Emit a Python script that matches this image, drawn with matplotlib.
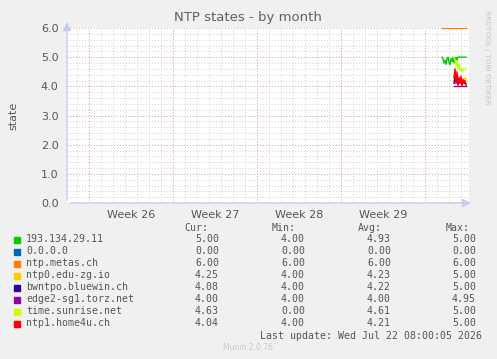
"""Munin style 'NTP states - by month' graph."""

import matplotlib

matplotlib.use("Agg")
import matplotlib.pyplot as plt
import numpy as np
import pandas as pd
from matplotlib.patches import Rectangle

# series names and munin colours, in draw order
names = ["193.134.29.11", "0.0.0.0", "ntp.metas.ch", "ntp0.edu-zg.io",
         "bwntpo.bluewin.ch", "edge2-sg1.torz.net", "time.sunrise.net", "ntp1.home4u.ch"]
colors = ["#00CC00", "#0066B3", "#FF8000", "#FFCC00",
          "#330099", "#990099", "#CCFF00", "#FF0000"]

# samples every 2 hours, only the last two days hold data
t_full = pd.date_range("2026-07-21 10:00", periods=25, freq="2h")
t_late = t_full[12:]

green = [5.0, 4.95, 4.8, 4.9, 4.75, 4.95, 5.0, 4.8, 4.75, 4.95, 4.85, 5.0, 4.8,
         4.95, 5.0, 4.9, 5.0, 5.0, 5.0, 5.0, 5.0, 5.0, 5.0, 5.0, 5.0]
zero_host = [0.0] * 25
metas = [6.0] * 25
edu_zg = [4.2, 4.4, 4.3, 4.1, 4.35, 4.2, 4.15, 4.3, 4.1, 4.2, 4.15, 4.3, 4.25]
bluewin = [4.1, 4.3, 4.15, 4.2, 4.05, 4.25, 4.1, 4.15, 4.05, 4.2, 4.1, 4.1, 4.08]
torz = [4.0, 4.0, 4.0, 4.0, 4.0, 4.0, 4.0, 4.0, 4.0, 4.0, 4.0, 4.0, 4.0]
sunrise = [5.0, 4.9, 4.7, 4.85, 4.6, 4.75, 4.55, 4.6, 4.5, 4.6, 4.55, 4.6, 4.63]
home4u = [4.3, 4.6, 4.1, 4.5, 4.05, 4.3, 4.1, 4.35, 4.0, 4.25, 4.1, 4.2, 4.04]

series = [(t_full, green), (t_full, zero_host), (t_full, metas), (t_late, edu_zg),
          (t_late, bluewin), (t_late, torz), (t_late, sunrise), (t_late, home4u)]

cur = ["5.00", "0.00", "6.00", "4.25", "4.08", "4.00", "4.63", "4.04"]
vmin = ["4.00", "0.00", "6.00", "4.00", "4.00", "4.00", "0.00", "4.00"]
vavg = ["4.93", "0.00", "6.00", "4.23", "4.22", "4.00", "4.61", "4.21"]
vmax = ["5.00", "0.00", "6.00", "5.00", "5.00", "4.95", "5.00", "5.00"]

week_labels = ["Week 26", "Week 27", "Week 28", "Week 29"]
week_starts = pd.date_range("2026-06-22", periods=5, freq="7D")
x_start = pd.Timestamp("2026-06-20 04:00")
x_end = pd.Timestamp("2026-07-23 16:00")

W, H = 497, 359
BG = "#F0F0F0"
TXT = "#555555"
AXIS = "#C8CCF4"


def fx(px):
    return px / W


def fy(py):
    return 1 - py / H


fig = plt.figure(figsize=(W / 100, H / 100), dpi=100, facecolor=BG)
ax = fig.add_axes([fx(67), fy(203), fx(469 - 67), (203 - 28) / H])
ax.set_facecolor("white")
for s in ax.spines.values():
    s.set_visible(False)

ax.set_xlim(x_start, x_end)
ax.set_ylim(0, 6)

# grid: minor every day / 0.2, major every week / 1.0
for d in pd.date_range("2026-06-21", "2026-07-23", freq="D"):
    ax.axvline(d, color="#D0D0D0", lw=0.7, ls=(0, (1, 2)), zorder=0)
for y in np.arange(0.2, 6.0, 0.2):
    ax.axhline(y, color="#D0D0D0", lw=0.7, ls=(0, (1, 2)), zorder=0)
for d in week_starts:
    ax.axvline(d, color="#E8A8A8", lw=0.7, ls=(0, (1, 2)), zorder=1)
for y in range(0, 7):
    ax.axhline(y, color="#E8A8A8", lw=0.7, ls=(0, (1, 2)), zorder=1)

for (t, vals), c in zip(series, colors):
    ax.plot(t, vals, color=c, lw=1.0, zorder=3)

ax.set_yticks(range(7))
ax.set_yticklabels([f"{v:.1f}" for v in range(7)], fontsize=8, color=TXT)
week_mid = [d + pd.Timedelta(days=3.5) for d in week_starts[:4]]
ax.set_xticks(week_mid)
ax.set_xticklabels(week_labels, fontsize=8, color=TXT)
ax.tick_params(length=0, pad=5)
ax.tick_params(axis="y", pad=6)
ax.set_ylabel("state", fontsize=8, color=TXT, labelpad=16)

# axis lines with arrow heads
ax.annotate("", xy=(1.012, 0), xytext=(0, 0), xycoords="axes fraction",
            arrowprops=dict(arrowstyle="-|>,head_length=0.5,head_width=0.25",
                            color=AXIS, lw=1), annotation_clip=False)
ax.annotate("", xy=(0, 1.05), xytext=(0, 0), xycoords="axes fraction",
            arrowprops=dict(arrowstyle="-|>,head_length=0.5,head_width=0.25",
                            color=AXIS, lw=1), annotation_clip=False)

fig.text(fx(248), fy(18), "NTP states - by month", ha="center", va="center",
         fontsize=9.5, color="#606060")
fig.text(fx(487), fy(10), "RRDTOOL / TOBI OETIKER", rotation=270, ha="center",
         va="top", fontsize=5.3, color="#C4C4C4")

# legend table
mono = dict(family="DejaVu Sans Mono", fontsize=7.1, color=TXT)
row0 = 239.5
fig.text(fx(208), fy(228), "Cur:", ha="right", va="center", **mono)
fig.text(fx(296), fy(228), "Min:", ha="right", va="center", **mono)
fig.text(fx(382), fy(228), "Avg:", ha="right", va="center", **mono)
fig.text(fx(470), fy(228), "Max:", ha="right", va="center", **mono)
for i, name in enumerate(names):
    y = row0 + 12 * i
    fig.patches.append(Rectangle((fx(14), fy(y + 3)), 6 / W, 6 / H,
                                 transform=fig.transFigure, color=colors[i]))
    fig.text(fx(26), fy(y), name, ha="left", va="center", **mono)
    fig.text(fx(219), fy(y), cur[i], ha="right", va="center", **mono)
    fig.text(fx(305), fy(y), vmin[i], ha="right", va="center", **mono)
    fig.text(fx(391), fy(y), vavg[i], ha="right", va="center", **mono)
    fig.text(fx(476), fy(y), vmax[i], ha="right", va="center", **mono)

fig.text(fx(482), fy(336), "Last update: Wed Jul 22 08:00:05 2026", ha="right",
         va="center", **mono)
fig.text(fx(248), fy(348), "Munin 2.0.76", ha="center", va="center",
         fontsize=5.5, color="#C8C8C8")

fig.savefig("out.png", dpi=100, facecolor=BG)
